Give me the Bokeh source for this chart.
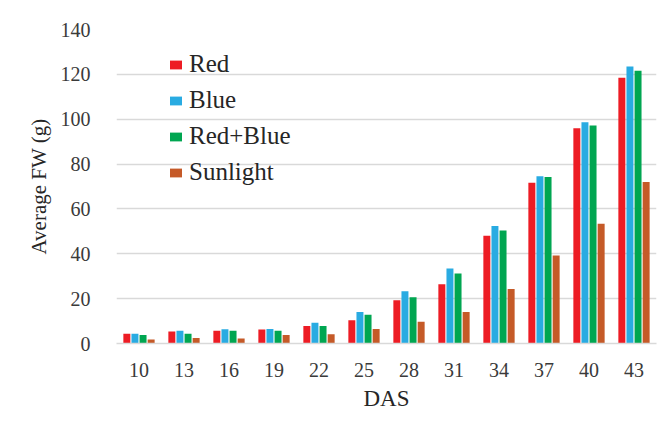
from bokeh.plotting import figure
from bokeh.models import FactorRange, Legend, LegendItem
from bokeh.transform import dodge
from bokeh.embed import file_html
from bokeh.resources import INLINE
from bokeh.models import ColumnDataSource

das = ["10", "13", "16", "19", "22", "25", "28", "31", "34", "37", "40", "43"]
red = [4.4, 5.3, 5.7, 6.2, 7.8, 10.4, 19.3, 26.4, 48.0, 71.7, 96.0, 118.5]
blue = [4.4, 5.7, 6.3, 6.5, 9.3, 14.1, 23.3, 33.4, 52.4, 74.6, 98.6, 123.5]
redblue = [3.8, 4.3, 5.7, 5.7, 7.8, 12.8, 20.6, 31.2, 50.4, 74.2, 97.2, 121.6]
sunlight = [1.8, 2.4, 2.2, 3.8, 4.1, 6.5, 9.7, 14.0, 24.3, 39.2, 53.4, 72.0]
series = ["Red", "Blue", "Red+Blue", "Sunlight"]
colors = ["#ed1c24", "#29abe2", "#00a651", "#c55a28"]
y_ticks = [0, 20, 40, 60, 80, 100, 120, 140]

src = ColumnDataSource(dict(das=das, red=red, blue=blue, redblue=redblue, sunlight=sunlight))

FONT = "Liberation Serif"
p = figure(x_range=FactorRange(factors=das, range_padding=0), y_range=(0, 140),
           width=660, height=413, output_backend="svg", toolbar_location=None,
           min_border_left=116, min_border_right=4, min_border_top=29, min_border_bottom=67)
p.outline_line_color = None

offsets = [-0.27, -0.09, 0.09, 0.27]
cols = ["red", "blue", "redblue", "sunlight"]
renderers = []
for off, col, c in zip(offsets, cols, colors):
    r = p.vbar(x=dodge("das", off, range=p.x_range), top=col, width=0.155, source=src,
               fill_color=c, line_color=None)
    renderers.append(r)

legend = Legend(items=[LegendItem(label=s, renderers=[r]) for s, r in zip(series, renderers)],
                location=(52, 157), padding=0, margin=0, spacing=8,
                glyph_width=15, glyph_height=11, label_height=25, label_standoff=6,
                label_text_font=FONT, label_text_font_size="25px", label_text_color="#262626",
                border_line_color=None, background_fill_alpha=0)
p.add_layout(legend)

p.yaxis.ticker = y_ticks
p.yaxis.axis_line_color = None
p.yaxis.major_tick_line_color = None
p.yaxis.minor_tick_line_color = None
p.yaxis.major_label_standoff = 20
p.yaxis.major_label_text_font = FONT
p.yaxis.major_label_text_font_size = "20px"
p.yaxis.major_label_text_color = "#3a3a3a"
p.yaxis.axis_label = "Average FW (g)"
p.yaxis.axis_label_text_font = FONT
p.yaxis.axis_label_text_font_size = "21px"
p.yaxis.axis_label_text_font_style = "normal"
p.yaxis.axis_label_text_color = "#262626"
p.yaxis.axis_label_standoff = 7

p.xaxis.axis_line_color = "#d9d9d9"
p.xaxis.axis_line_width = 1.5
p.xaxis.major_tick_line_color = None
p.xaxis.minor_tick_line_color = None
p.xaxis.major_label_standoff = 13
p.xaxis.major_label_text_font = FONT
p.xaxis.major_label_text_font_size = "20px"
p.xaxis.major_label_text_color = "#3a3a3a"
p.xaxis.axis_label = "DAS"
p.xaxis.axis_label_text_font = FONT
p.xaxis.axis_label_text_font_size = "23px"
p.xaxis.axis_label_text_font_style = "normal"
p.xaxis.axis_label_text_color = "#262626"
p.xaxis.axis_label_standoff = 6

p.xgrid.grid_line_color = None
p.ygrid.grid_line_color = "#d9d9d9"
p.ygrid.grid_line_width = 1.5

open("out.html", "w").write(file_html(p, INLINE))
